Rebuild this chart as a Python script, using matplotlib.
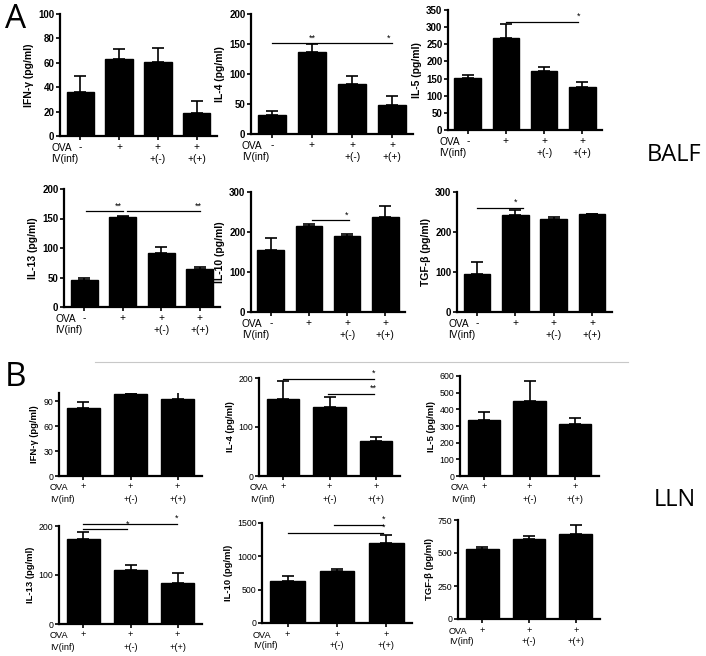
import matplotlib
matplotlib.use('Agg')
import matplotlib.pyplot as plt

W, H = 706, 656
plt.rcParams['font.family'] = ['Liberation Sans', 'DejaVu Sans']

# ---- data ----
ova_A = ['-', '+', '+', '+']
iv_A = ['', '', '+(-)', '+(+)']
ova_B = ['+', '+', '+']
iv_B = ['', '+(-)', '+(+)']

ifng_A = [36, 63, 61, 19]
ifng_A_err = [13, 8, 11, 10]
il4_A = [32, 136, 83, 49]
il4_A_err = [7, 14, 14, 15]
il5_A = [152, 268, 173, 126]
il5_A_err = [8, 41, 12, 14]
il13_A = [45, 152, 91, 64]
il13_A_err = [4, 3, 10, 4]
il10_A = [155, 215, 190, 238]
il10_A_err = [29, 6, 5, 26]
tgfb_A = [95, 243, 233, 245]
tgfb_A_err = [30, 11, 4, 1]

ifng_B = [82, 99, 93]
ifng_B_err = [7, 1, 11]
il4_B = [157, 141, 71]
il4_B_err = [36, 21, 9]
il5_B = [333, 448, 311]
il5_B_err = [51, 120, 36]
il13_B = [173, 110, 83]
il13_B_err = [15, 10, 22]
il10_B = [625, 785, 1200]
il10_B_err = [75, 25, 125]
tgfb_B = [532, 605, 645]
tgfb_B_err = [13, 27, 70]

# significance: (x1, x2, y)   stars: (x, y, text)
sig = {
    'il4_A': ([(0, 3, 151)], [(1, 151, '**'), (2.9, 151, '*')]),
    'il5_A': ([(1, 2.9, 315)], [(2.9, 315, '*')]),
    'il13_A': ([(0.05, 1.0, 162), (1.1, 3.0, 162)], [(0.9, 162, '**'), (2.95, 162, '**')]),
    'il10_A': ([(1.08, 2.05, 229)], [(2.0, 229, '*')]),
    'tgfb_A': ([(0, 1.2, 261)], [(1.0, 261, '*')]),
    'il4_B': ([(0, 1.95, 198), (0.96, 1.95, 167)], [(1.95, 198, '*'), (1.95, 167, '**')]),
    'il13_B': ([(0, 1.98, 205), (0, 0.93, 193)], [(1.98, 205, '*'), (0.93, 193, '*')]),
    'il10_B': ([(0.94, 1.94, 1475), (0, 1.94, 1350)], [(1.94, 1475, '*'), (1.94, 1350, '*')]),
}

fig = plt.figure(figsize=(W / 100, H / 100), dpi=100)


def panel(l, r, t, b, vals, errs, ova, iv, ylab, ylim, yticks, key=None, small=False):
    ax = fig.add_axes([l / W, 1 - b / H, (r - l) / W, (b - t) / H])
    x = list(range(len(vals)))
    ax.bar(x, vals, width=0.7, color='black', edgecolor='black', zorder=2)
    ax.errorbar(x, vals, yerr=[[0] * len(errs), errs], fmt='none', ecolor='black',
                elinewidth=1.2, capsize=4.5, capthick=1.2, zorder=1)
    ax.set_xlim(-0.52, len(vals) - 0.48)
    ax.set_ylim(*ylim)
    ax.set_yticks(yticks)
    ax.set_xticks(x)
    ax.set_xticklabels([])
    for s in ['top', 'right']:
        ax.spines[s].set_visible(False)
    for s in ['left', 'bottom']:
        ax.spines[s].set_linewidth(1.6)
    fs = 6.3 if small else 7
    ax.tick_params(axis='both', direction='out', length=3, width=1.2, labelsize=fs, pad=1)
    for lab in ax.get_yticklabels():
        lab.set_fontweight('bold' if not small else 'normal')
    ax.set_ylabel(ylab, fontsize=fs + 0.5, fontweight='bold', labelpad=3)
    ax.annotate('OVA', xy=(0, 0), xycoords='axes fraction', xytext=(-9, -12),
                textcoords='offset pixels', ha='left', va='center', fontsize=fs + 0.3)
    ax.annotate('IV(inf)', xy=(0, 0), xycoords='axes fraction', xytext=(-9, -23),
                textcoords='offset pixels', ha='left', va='center', fontsize=fs + 0.3)
    for i in x:
        ax.annotate(ova[i], xy=(i, 0), xycoords=('data', 'axes fraction'), xytext=(0, -11),
                    textcoords='offset pixels', ha='center', va='center', fontsize=fs + 0.3)
        ax.annotate(iv[i], xy=(i, 0), xycoords=('data', 'axes fraction'), xytext=(0, -23),
                    textcoords='offset pixels', ha='center', va='center', fontsize=fs + 0.3)
    if key in sig:
        lines, stars = sig[key]
        for x1, x2, y in lines:
            ax.plot([x1, x2], [y, y], color='black', lw=0.9, clip_on=False, zorder=3)
        for sx, sy, st in stars:
            ax.annotate(st, xy=(sx, sy), xytext=(0, 1), textcoords='offset pixels',
                        ha='center', va='bottom', fontsize=6.5, annotation_clip=False)
    return ax


# section A
panel(60, 217, 14, 136, ifng_A, ifng_A_err, ova_A, iv_A, 'IFN-γ (pg/ml)', (0, 100), range(0, 101, 20))
panel(251, 413, 14, 134, il4_A, il4_A_err, ova_A, iv_A, 'IL-4 (pg/ml)', (0, 200), range(0, 201, 50), 'il4_A')
panel(448, 602, 10, 130, il5_A, il5_A_err, ova_A, iv_A, 'IL-5 (pg/ml)', (0, 350), range(0, 351, 50), 'il5_A')
panel(64, 220, 189, 307, il13_A, il13_A_err, ova_A, iv_A, 'IL-13 (pg/ml)', (0, 200), range(0, 201, 50), 'il13_A')
panel(251, 405, 192, 312, il10_A, il10_A_err, ova_A, iv_A, 'IL-10 (pg/ml)', (0, 300), range(0, 301, 100), 'il10_A')
panel(457, 612, 192, 312, tgfb_A, tgfb_A_err, ova_A, iv_A, 'TGF-β (pg/ml)', (0, 300), range(0, 301, 100), 'tgfb_A')

# section B
panel(59, 202, 393, 476, ifng_B, ifng_B_err, ova_B, iv_B, 'IFN-γ (pg/ml)', (0, 100), range(0, 91, 30), small=True)
panel(259, 400, 378, 476, il4_B, il4_B_err, ova_B, iv_B, 'IL-4 (pg/ml)', (0, 200), range(0, 201, 100), 'il4_B', small=True)
panel(460, 599, 376, 476, il5_B, il5_B_err, ova_B, iv_B, 'IL-5 (pg/ml)', (0, 600), range(0, 601, 100), small=True)
panel(59, 202, 526, 624, il13_B, il13_B_err, ova_B, iv_B, 'IL-13 (pg/ml)', (0, 200), range(0, 201, 100), 'il13_B', small=True)
panel(262, 412, 523, 623, il10_B, il10_B_err, ova_B, iv_B, 'IL-10 (pg/ml)', (0, 1500), range(0, 1501, 500), 'il10_B', small=True)
panel(458, 600, 520, 619, tgfb_B, tgfb_B_err, ova_B, iv_B, 'TGF-β (pg/ml)', (0, 750), range(0, 751, 250), small=True)

fig.text(5 / W, 1 - 19 / H, 'A', fontsize=24, va='center', ha='left', family=['Open Sans', 'DejaVu Sans'])
fig.text(5 / W, 1 - 377 / H, 'B', fontsize=24, va='center', ha='left', family=['Open Sans', 'DejaVu Sans'])
fig.text(647 / W, 1 - 155 / H, 'BALF', fontsize=17, va='center', ha='left', family=['Open Sans', 'DejaVu Sans'])
fig.text(654 / W, 1 - 500 / H, 'LLN', fontsize=17, va='center', ha='left', family=['Open Sans', 'DejaVu Sans'])
fig.add_artist(plt.Line2D([95 / W, 628 / W], [1 - 362 / H, 1 - 362 / H], color='#c8c8c8', lw=0.8))

fig.savefig('out.png', dpi=100)
